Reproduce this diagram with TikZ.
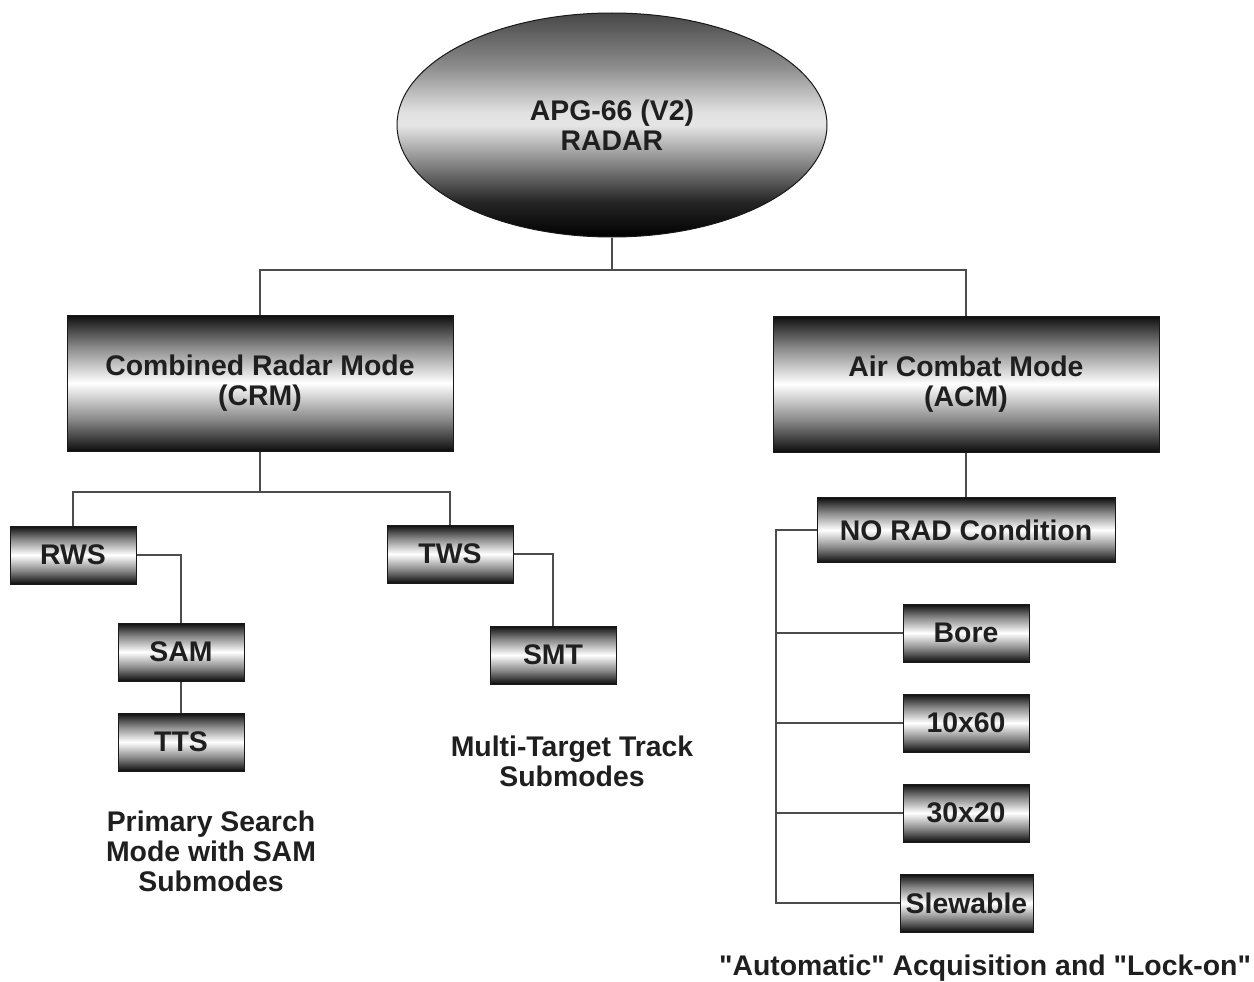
\documentclass[tikz,border=0pt]{standalone}
\usepackage{fontspec}
\setmainfont{Liberation Sans}[Ligatures=TeXOff]
\usetikzlibrary{shapes.geometric}
\pgfdeclareverticalshading{barshade}{100bp}{color(0bp)=(black); color(25bp)=(black!95); color(29bp)=(black!78); color(37bp)=(black!45); color(47bp)=(white!90!black); color(50bp)=(white); color(53bp)=(white!90!black); color(63bp)=(black!45); color(71bp)=(black!78); color(75bp)=(black!95); color(100bp)=(black)}
\pgfdeclareverticalshading{ellshade}{100bp}{color(0bp)=(black); color(25bp)=(black); color(33bp)=(black!85); color(42bp)=(black!45); color(50bp)=(white!90!black); color(53bp)=(white!88!black); color(63bp)=(black!45); color(75bp)=(black!72); color(100bp)=(black!72)}
\tikzset{
  txt/.style={font=\fontsize{28.4}{30}\selectfont\bfseries, text=black!88, align=center},
  box/.style={txt, draw=black!90, line width=1pt, shading=barshade, inner sep=0pt, minimum width=126pt, minimum height=58pt},
  bigbox/.style={box, minimum width=386pt, minimum height=136pt},
  conn/.style={draw=black!70, line width=1.3pt},
}
\begin{document}
\begin{tikzpicture}[x=1pt,y=-1pt]
\useasboundingbox (0,0) rectangle (1254,982);
\node[txt, ellipse, draw=black!90, line width=1pt, shading=ellshade, minimum width=430pt, minimum height=224pt, inner sep=0pt] (radar) at (612,125) {APG-66 (V2)\\RADAR};
\node[bigbox] (crm) at (260,383) {Combined Radar Mode\\(CRM)};
\node[bigbox] (acm) at (966,384) {Air Combat Mode\\(ACM)};
\node[box] (rws) at (73,555) {RWS};
\node[box] (tws) at (450,554) {TWS};
\node[box] (sam) at (181,652) {SAM};
\node[box] (tts) at (181,742) {TTS};
\node[box] (smt) at (553,655) {SMT};
\node[box, minimum width=298pt, minimum height=65pt] (norad) at (966,530) {NO RAD Condition};
\node[box] (bore) at (966,633) {Bore};
\node[box] (tensixty) at (966,723) {10x60};
\node[box] (thirtytwenty) at (966,813) {30x20};
\node[box, minimum width=133pt] (slew) at (966.5,903) {Slewable};
\node[txt] (lbla) at (211,851) {Primary Search\\Mode with SAM\\Submodes};
\node[txt] (lblb) at (572,761) {Multi-Target Track\\Submodes};
\node[txt] (lblc) at (985,968) {"Automatic" Acquisition and "Lock-on"};
\coordinate (j1) at (612,270);
\coordinate (j2) at (260,492);
\coordinate (bus) at (776,0);
\draw[conn] (radar.south) -- (j1);
\draw[conn] (crm.north) |- (j1) -| (acm.north);
\draw[conn] (crm.south) -- (j2);
\draw[conn] (rws.north) |- (j2) -| (tws.north);
\draw[conn] (rws.east) -| (sam.north);
\draw[conn] (sam.south) -- (tts.north);
\draw[conn] (tws.east) -| (smt.north);
\draw[conn] (acm.south) -- (norad.north);
\draw[conn] (norad.west) -- (norad.west -| bus) -- (slew.west -| bus) -- (slew.west);
\draw[conn] (bore.west) -- (bore.west -| bus);
\draw[conn] (tensixty.west) -- (tensixty.west -| bus);
\draw[conn] (thirtytwenty.west) -- (thirtytwenty.west -| bus);
\end{tikzpicture}
\end{document}
